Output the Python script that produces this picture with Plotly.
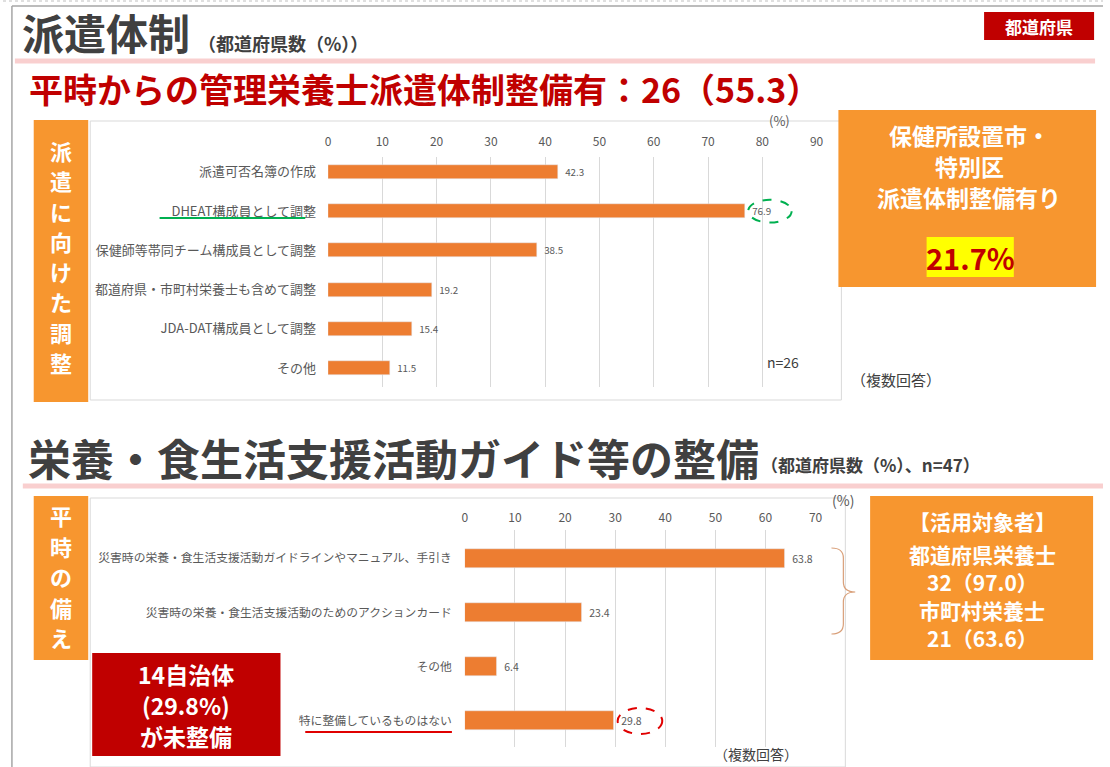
import plotly.graph_objects as go

W, H = 1110, 767
JP = "Noto Sans CJK JP"

# ---- data ----
top_categories = ["派遣可否名簿の作成", "DHEAT構成員として調整", "保健師等帯同チーム構成員として調整",
                  "都道府県・市町村栄養士も含めて調整", "JDA-DAT構成員として調整", "その他"]
top_values = [42.3, 76.9, 38.5, 19.2, 15.4, 11.5]
top_ticks = [0, 10, 20, 30, 40, 50, 60, 70, 80, 90]

bottom_categories = ["災害時の栄養・食生活支援活動ガイドラインやマニュアル、手引き",
                     "災害時の栄養・食生活支援活動のためのアクションカード",
                     "その他", "特に整備しているものはない"]
bottom_values = [63.8, 23.4, 6.4, 29.8]
bottom_ticks = [0, 10, 20, 30, 40, 50, 60, 70]

BAR = "#ED7D31"
ORANGE = "#F7962F"
DARKRED = "#C00000"
GRAY = "#595959"


def px(x):
    return x / W


def py(y):
    return 1 - y / H


fig = go.Figure()
fig.add_trace(go.Bar(
    x=top_values, y=top_categories, orientation="h", marker_color=BAR, width=0.36,
    texttemplate="\u00a0\u00a0%{x:.1f}", textposition="outside", cliponaxis=False,
    textfont=dict(size=10.5, color=GRAY, family=JP), xaxis="x", yaxis="y", showlegend=False))
fig.add_trace(go.Bar(
    x=bottom_values, y=bottom_categories, orientation="h", marker_color=BAR, width=0.35,
    texttemplate="\u00a0\u00a0%{x:.1f}", textposition="outside", cliponaxis=False,
    textfont=dict(size=10.5, color=GRAY, family=JP), xaxis="x2", yaxis="y2", showlegend=False))

axis_common = dict(showline=False, zeroline=False, showgrid=True, gridcolor="#D9D9D9", gridwidth=1,
                   ticks="", tickfont=dict(size=12, color=GRAY, family=JP), fixedrange=True)

fig.update_layout(
    width=W, height=H, margin=dict(l=0, r=0, t=0, b=0),
    paper_bgcolor="white", plot_bgcolor="white", bargap=0,
    xaxis=dict(domain=[px(328), px(821)], range=[0, 90], tickvals=top_ticks, side="top",
               anchor="y", ticklabelstandoff=8, **axis_common),
    yaxis=dict(domain=[py(387), py(157)], type="category", categoryorder="array",
               categoryarray=top_categories, range=[5.48, -0.38], showgrid=False, showline=False,
               zeroline=False, ticks="", anchor="x", ticklabelstandoff=11,
               tickfont=dict(size=13, color=GRAY, family=JP), fixedrange=True),
    xaxis2=dict(domain=[px(466), px(820)], range=[0, 70], tickvals=bottom_ticks, side="top",
                anchor="y2", ticklabelstandoff=5, **axis_common),
    yaxis2=dict(domain=[py(747), py(530)], type="category", categoryorder="array",
                categoryarray=bottom_categories, range=[3.48, -0.52], showgrid=False, showline=False,
                zeroline=False, ticks="", anchor="x2", ticklabelstandoff=12,
                tickfont=dict(size=11.8, color=GRAY, family=JP), fixedrange=True),
)

shapes = []


def rect(x0, y0, x1, y1, fill=None, line=None, lw=1, layer="below"):
    shapes.append(dict(type="rect", xref="paper", yref="paper", x0=px(x0), x1=px(x1),
                       y0=py(y1), y1=py(y0), fillcolor=fill or "rgba(0,0,0,0)",
                       line=dict(color=line or "rgba(0,0,0,0)", width=lw if line else 0), layer=layer))


def hline(x0, x1, y, color, w, dash="solid"):
    shapes.append(dict(type="line", xref="paper", yref="paper", x0=px(x0), x1=px(x1), y0=py(y), y1=py(y),
                       line=dict(color=color, width=w, dash=dash), layer="above"))


def vline(x, y0, y1, color, w):
    shapes.append(dict(type="line", xref="paper", yref="paper", x0=px(x), x1=px(x), y0=py(y0), y1=py(y1),
                       line=dict(color=color, width=w), layer="above"))


# outer frame
hline(0, 1110, 1, "#BFBFBF", 1, "dot")
hline(9, 1110, 6, "#A6A6A6", 1.5)
vline(9, 6, 767, "#A6A6A6", 1.5)
# pink rules
hline(12, 1102, 61, "#F9CFCF", 5)
hline(20, 1110, 486, "#F9CFCF", 5)
# chart frames
rect(88, 121, 846, 400, line="#D9D9D9", lw=1)
rect(88, 498, 850, 767, line="#D9D9D9", lw=1)
# boxes
rect(990, 12, 1101, 40, fill=DARKRED, layer="above")
rect(31, 120, 86, 402, fill=ORANGE, layer="above")
rect(31, 496, 86, 660, fill=ORANGE, layer="above")
rect(843, 110, 1103, 287, fill=ORANGE, layer="above")
rect(932, 237, 1020, 277, fill="#FFFF00", layer="above")
rect(875, 496, 1100, 660, fill=ORANGE, layer="above")
rect(90, 653, 280, 756, fill=DARKRED, layer="above")

# underlines
hline(158, 305, 218, "#00B050", 2)
hline(305, 453, 732, "#E00000", 2)

# dashed ellipses around data labels (data coordinates)
shapes.append(dict(type="circle", xref="x", yref="y", x0=top_values[1] + 0.5, x1=top_values[1] + 8.5,
                   y0=1 - 0.29, y1=1 + 0.29, line=dict(color="#00B050", width=2, dash="dash"), layer="above"))
shapes.append(dict(type="circle", xref="x2", yref="y2", x0=bottom_values[3] + 0.7, x1=bottom_values[3] + 9.6,
                   y0=3 - 0.24, y1=3 + 0.24, line=dict(color="#E00000", width=2, dash="dash"), layer="above"))

# curly brace
bp = (f"M {px(836)},{py(548)} Q {px(848)},{py(548)} {px(848)},{py(558)} L {px(848)},{py(582)} "
      f"Q {px(848)},{py(592)} {px(860)},{py(592)} Q {px(848)},{py(592)} {px(848)},{py(602)} "
      f"L {px(848)},{py(624)} Q {px(848)},{py(634)} {px(836)},{py(634)}")
shapes.append(dict(type="path", xref="paper", yref="paper", path=bp,
                   line=dict(color="#D9A07A", width=1.2), layer="above"))

fig.update_layout(shapes=shapes)

annots = []


def txt(x, y, s, size, color, bold=False, xanchor="left"):
    annots.append(dict(x=px(x), y=py(y), xref="paper", yref="paper", text=s, showarrow=False,
                       xanchor=xanchor, yanchor="middle", borderpad=0,
                       font=dict(size=size, color=color, family=JP, weight="bold" if bold else "normal")))


TITLE = "#404040"
txt(18, 32, "派遣体制", 42, TITLE, True)
txt(196, 43, "（都道府県数（%））", 18, TITLE, True)
txt(1045, 26, "都道府県", 17, "white", True, "center")
txt(25, 89, "平時からの管理栄養士派遣体制整備有：26（55.3）", 34, DARKRED, True)

# vertical labels
for i, ch in enumerate("派遣に向けた調整"):
    txt(58.5, 150 + i * 30.3, ch, 22, "white", True, "center")
for i, ch in enumerate("平時の備え"):
    txt(58.5, 515 + i * 30.5, ch, 22, "white", True, "center")

# top right box
txt(975, 135, "保健所設置市・", 23, "white", True, "center")
txt(975, 166, "特別区", 23, "white", True, "center")
txt(975, 197, "派遣体制整備有り", 23, "white", True, "center")
txt(976, 257, "21.7%", 29, DARKRED, True, "center")

txt(784, 120, "(%)", 13, GRAY, False, "center")
txt(770, 362, "n=26", 14, TITLE)
txt(855, 379, "（複数回答）", 15, TITLE)

# bottom section
txt(24, 457, "栄養・食生活支援活動ガイド等の整備", 43, TITLE, True)
txt(764, 464, "（都道府県数（%）、n=47）", 17, TITLE, True)
txt(848, 500, "(%)", 14, GRAY, False, "center")

txt(988, 521, "【活用対象者】", 21, "white", True, "center")
txt(988, 554, "都道府県栄養士", 21, "white", True, "center")
txt(988, 582, "32（97.0）", 21, "white", True, "center")
txt(988, 610, "市町村栄養士", 21, "white", True, "center")
txt(988, 638, "21（63.6）", 21, "white", True, "center")

txt(185, 674, "14自治体", 23, "white", True, "center")
txt(185, 705, "(29.8%)", 23, "white", True, "center")
txt(185, 736, "が未整備", 23, "white", True, "center")

txt(716, 754, "（複数回答）", 14, TITLE)

fig.update_layout(annotations=annots)
fig.write_html("out.html", config={"displayModeBar": False},
               post_script="document.body.style.margin='0';document.body.style.overflow='hidden';")
